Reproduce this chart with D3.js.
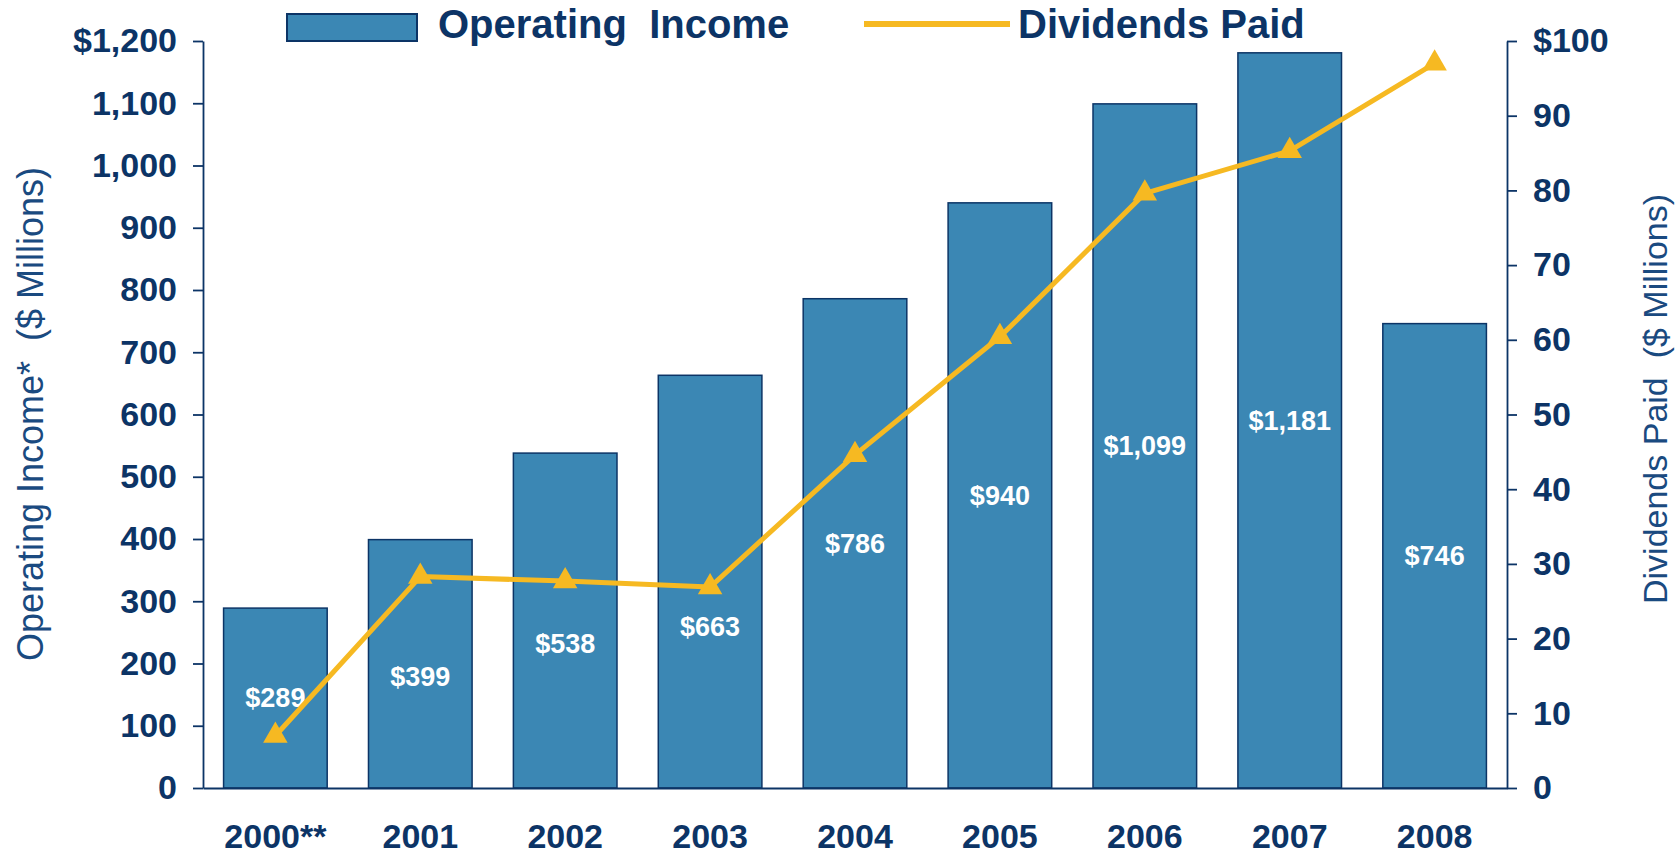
<!DOCTYPE html>
<html>
<head>
<meta charset="utf-8">
<script src="https://cdn.jsdelivr.net/npm/d3@7"></script>
<style>
  html, body { margin: 0; padding: 0; background: #fff; }
  svg { display: block; font-family: "Liberation Sans", Arial, sans-serif; }
</style>
</head>
<body>
<div id="chart"></div>
<script>
// chart data
const years = ['2000**', '2001', '2002', '2003', '2004', '2005', '2006', '2007', '2008'];
const operatingIncome = [289, 399, 538, 663, 786, 940, 1099, 1181, 746];
const dividendsPaid = [7.0, 28.3, 27.7, 26.9, 44.6, 60.4, 79.6, 85.3, 97.0];
const labelFrac = [0.5, 0.45, 0.43, 0.39, 0.5, 0.5, 0.5, 0.5, 0.5];
const incomeTicks = [0, 100, 200, 300, 400, 500, 600, 700, 800, 900, 1000, 1100, 1200];
const dividendTicks = [0, 10, 20, 30, 40, 50, 60, 70, 80, 90, 100];

const W = 1677, H = 854;
const navy = '#0c3466';
const barFill = '#3b87b4';
const gold = '#f6b922';

const plotLeft = 203, plotRight = 1507, plotTop = 41, plotBottom = 788;

const svg = d3.select('#chart').append('svg')
  .attr('width', W)
  .attr('height', H);

const x = d3.scaleBand().domain(years).range([plotLeft, plotRight])
  .paddingInner(0.285).paddingOuter(0.142);
const y = d3.scaleLinear().domain([0, 1200]).range([plotBottom, plotTop]);
const y2 = d3.scaleLinear().domain([0, 100]).range([plotBottom, plotTop]);

// bars
svg.selectAll('.bar').data(operatingIncome).enter().append('rect')
  .attr('class', 'bar')
  .attr('x', (d, i) => x(years[i]))
  .attr('width', x.bandwidth())
  .attr('y', d => y(d))
  .attr('height', d => plotBottom - y(d))
  .attr('fill', barFill)
  .attr('stroke', navy)
  .attr('stroke-width', 1.5);

// bar value labels
svg.selectAll('.val').data(operatingIncome).enter().append('text')
  .attr('class', 'val')
  .attr('x', (d, i) => x(years[i]) + x.bandwidth() / 2)
  .attr('y', (d, i) => y(d * labelFrac[i]))
  .attr('dy', '0.35em')
  .attr('text-anchor', 'middle')
  .attr('fill', '#fff')
  .attr('font-weight', 'bold')
  .attr('font-size', 27)
  .text(d => '$' + d3.format(',')(d));

// axes
const fmtLeft = d => (d === 1200 ? '$' : '') + d3.format(',')(d);
const fmtRight = d => (d === 100 ? '$' : '') + d;

const gLeft = svg.append('g')
  .attr('transform', `translate(${plotLeft},0)`)
  .call(d3.axisLeft(y).tickValues(incomeTicks).tickFormat(fmtLeft).tickSize(10).tickPadding(16).tickSizeOuter(0));

const gRight = svg.append('g')
  .attr('transform', `translate(${plotRight},0)`)
  .call(d3.axisRight(y2).tickValues(dividendTicks).tickFormat(fmtRight).tickSize(10).tickPadding(16).tickSizeOuter(0));

const gBottom = svg.append('g')
  .attr('transform', `translate(0,${plotBottom})`)
  .call(d3.axisBottom(x).tickSize(0).tickPadding(36).tickSizeOuter(0));

[gLeft, gRight, gBottom].forEach(g => {
  g.select('.domain').attr('stroke', navy).attr('stroke-width', 1.8);
  g.selectAll('.tick line').attr('stroke', navy).attr('stroke-width', 1.8);
  g.selectAll('.tick text')
    .attr('fill', navy)
    .attr('font-size', 34)
    .attr('font-weight', 'bold')
    .attr('font-family', '"Liberation Sans", Arial, sans-serif');
});
gBottom.selectAll('.tick text').attr('dy', '0.71em');

// dividends line
const line = d3.line()
  .x((d, i) => x(years[i]) + x.bandwidth() / 2)
  .y(d => y2(d));

svg.append('path')
  .datum(dividendsPaid)
  .attr('d', line)
  .attr('fill', 'none')
  .attr('stroke', gold)
  .attr('stroke-width', 5)
  .attr('stroke-linejoin', 'round');

const tri = d3.symbol().type(d3.symbolTriangle).size(260);
svg.selectAll('.marker').data(dividendsPaid).enter().append('path')
  .attr('class', 'marker')
  .attr('d', tri)
  .attr('transform', (d, i) => `translate(${x(years[i]) + x.bandwidth() / 2},${y2(d)})`)
  .attr('fill', gold);

// axis titles
svg.append('text')
  .attr('transform', `translate(30,414) rotate(-90)`)
  .attr('text-anchor', 'middle')
  .attr('dy', '0.35em')
  .attr('fill', '#1a4a80')
  .attr('font-size', 36)
  .attr('xml:space', 'preserve')
  .text('Operating Income*  ($ Millions)');

svg.append('text')
  .attr('transform', `translate(1655,399) rotate(-90)`)
  .attr('text-anchor', 'middle')
  .attr('dy', '0.35em')
  .attr('fill', '#1a4a80')
  .attr('font-size', 34)
  .attr('xml:space', 'preserve')
  .text('Dividends Paid  ($ Millions)');

// legend
const legend = svg.append('g');
legend.append('rect')
  .attr('x', 287).attr('y', 14)
  .attr('width', 130).attr('height', 27)
  .attr('fill', barFill)
  .attr('stroke', navy)
  .attr('stroke-width', 2);
legend.append('text')
  .attr('x', 438).attr('y', 38)
  .attr('fill', navy)
  .attr('font-size', 40)
  .attr('font-weight', 'bold')
  .attr('xml:space', 'preserve')
  .text('Operating  Income');
legend.append('line')
  .attr('x1', 864).attr('x2', 1010)
  .attr('y1', 24).attr('y2', 24)
  .attr('stroke', gold)
  .attr('stroke-width', 6);
legend.append('text')
  .attr('x', 1018).attr('y', 38)
  .attr('fill', navy)
  .attr('font-size', 40)
  .attr('font-weight', 'bold')
  .text('Dividends Paid');
</script>
</body>
</html>
